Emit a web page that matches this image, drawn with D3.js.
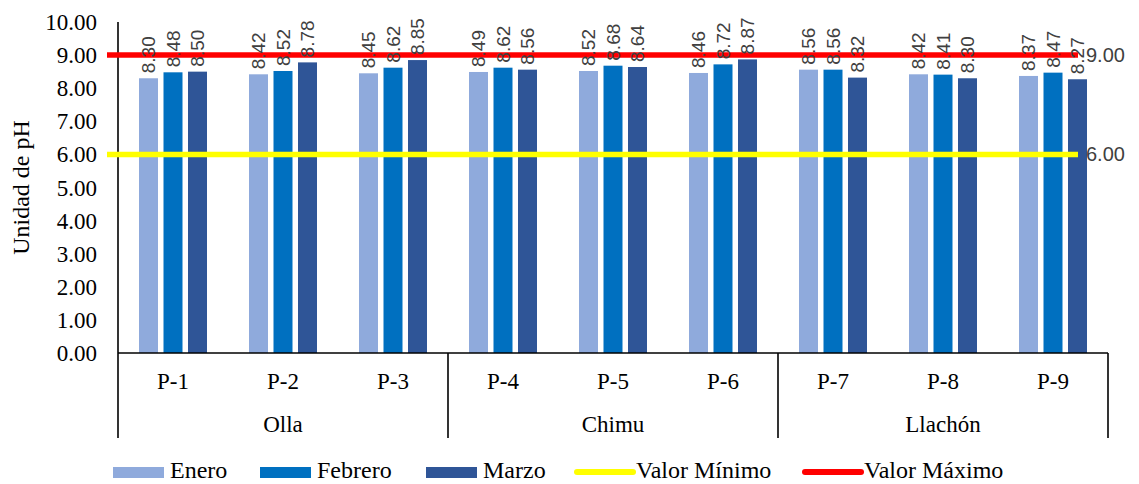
<!DOCTYPE html>
<html>
<head>
<meta charset="utf-8">
<script src="https://cdn.jsdelivr.net/npm/d3@7"></script>
<style>
  html, body { margin: 0; padding: 0; background: #fff; }
  svg { display: block; }
</style>
</head>
<body>
<svg id="chart" width="1139" height="484"></svg>
<script>
// Sampling points, grouped by community
const points = ["P-1", "P-2", "P-3", "P-4", "P-5", "P-6", "P-7", "P-8", "P-9"];
const groups = ["Olla", "Chimu", "Llachón"];
const groupOf = ["Olla", "Olla", "Olla", "Chimu", "Chimu", "Chimu", "Llachón", "Llachón", "Llachón"];

// Monthly pH values per sampling point
const months = ["Enero", "Febrero", "Marzo"];
const enero   = [8.30, 8.42, 8.45, 8.49, 8.52, 8.46, 8.56, 8.42, 8.37];
const febrero = [8.48, 8.52, 8.62, 8.62, 8.68, 8.72, 8.56, 8.41, 8.47];
const marzo   = [8.50, 8.78, 8.85, 8.56, 8.64, 8.87, 8.32, 8.30, 8.27];

// Permitted limits
const valorMinimo = 6.00;
const valorMaximo = 9.00;

// Y axis ticks
const yTicks = [0, 1, 2, 3, 4, 5, 6, 7, 8, 9, 10];

const seriesValues = [enero, febrero, marzo];
const colors = { Enero: "#8FAADC", Febrero: "#0070C0", Marzo: "#2F5597" };
const serif = "'Liberation Serif', 'Times New Roman', serif";
const sans = "'Liberation Sans', Arial, sans-serif";

const svg = d3.select("#chart");
const plotLeft = 118, plotRight = 1108, plotTop = 22, plotBottom = 353, axisBottom = 438;

const y = d3.scaleLinear().domain([0, 10]).range([plotBottom, plotTop]);
const x = d3.scaleBand().domain(points).range([plotLeft, plotRight]).padding(0);
const inner = d3.scaleBand().domain(months).range([-34, 34]).paddingInner(0.2245);
const fmt = d3.format(".2f");

// Y axis tick labels
svg.append("g")
  .selectAll("text")
  .data(yTicks)
  .join("text")
  .attr("x", 97)
  .attr("y", d => y(d))
  .attr("dy", "0.35em")
  .attr("text-anchor", "end")
  .attr("font-family", serif)
  .attr("font-size", 23)
  .attr("fill", "#000")
  .text(d => fmt(d));

// Y axis title
svg.append("text")
  .attr("transform", `translate(29,${(plotTop + plotBottom) / 2}) rotate(-90)`)
  .attr("text-anchor", "middle")
  .attr("font-family", serif)
  .attr("font-size", 24)
  .attr("fill", "#000")
  .text("Unidad de pH");

// Bars
const barG = svg.append("g");
months.forEach((m, si) => {
  barG.append("g")
    .selectAll("rect")
    .data(points.map((p, i) => ({ p, v: seriesValues[si][i] })))
    .join("rect")
    .attr("x", d => x(d.p) + x.bandwidth() / 2 + inner(m))
    .attr("y", d => y(d.v))
    .attr("width", inner.bandwidth())
    .attr("height", d => y(0) - y(d.v))
    .attr("fill", colors[m]);
});

// Axis lines and group separators
const axisG = svg.append("g").attr("stroke", "#000").attr("stroke-width", 1.6);
axisG.append("line").attr("x1", plotLeft).attr("x2", plotLeft).attr("y1", plotTop).attr("y2", axisBottom);
axisG.append("line").attr("x1", plotLeft).attr("x2", plotRight).attr("y1", y(0)).attr("y2", y(0));
groups.forEach(g => {
  const last = points[groupOf.lastIndexOf(g)];
  const gx = x(last) + x.bandwidth();
  axisG.append("line").attr("x1", gx).attr("x2", gx).attr("y1", y(0)).attr("y2", axisBottom);
});

// Category labels
svg.append("g")
  .selectAll("text")
  .data(points)
  .join("text")
  .attr("x", d => x(d) + x.bandwidth() / 2)
  .attr("y", 389)
  .attr("text-anchor", "middle")
  .attr("font-family", serif)
  .attr("font-size", 23)
  .attr("fill", "#000")
  .text(d => d);

// Group labels
svg.append("g")
  .selectAll("text")
  .data(groups)
  .join("text")
  .attr("x", g => {
    const first = points[groupOf.indexOf(g)];
    const last = points[groupOf.lastIndexOf(g)];
    return (x(first) + x(last) + x.bandwidth()) / 2;
  })
  .attr("y", 432)
  .attr("text-anchor", "middle")
  .attr("font-family", serif)
  .attr("font-size", 23)
  .attr("fill", "#000")
  .text(d => d);

// Limit lines
const limits = [
  { name: "Valor Mínimo", v: valorMinimo, color: "#FFFF00" },
  { name: "Valor Máximo", v: valorMaximo, color: "#FF0000" }
];
const lineX1 = plotLeft - 11, lineX2 = plotRight - 30;
svg.append("g")
  .selectAll("line")
  .data(limits)
  .join("line")
  .attr("x1", lineX1)
  .attr("x2", lineX2)
  .attr("y1", d => y(d.v))
  .attr("y2", d => y(d.v))
  .attr("stroke", d => d.color)
  .attr("stroke-width", 5.5);

svg.append("g")
  .selectAll("text")
  .data(limits)
  .join("text")
  .attr("x", lineX2 + 8)
  .attr("y", d => y(d.v))
  .attr("dy", "0.35em")
  .attr("font-family", sans)
  .attr("font-size", 20)
  .attr("fill", "#404040")
  .text(d => fmt(d.v));

// Data labels
const labelG = svg.append("g");
months.forEach((m, si) => {
  labelG.append("g")
    .selectAll("text")
    .data(points.map((p, i) => ({ p, v: seriesValues[si][i] })))
    .join("text")
    .attr("transform", d => {
      const cx = x(d.p) + x.bandwidth() / 2 + inner(m) + inner.bandwidth() / 2;
      return `translate(${cx},${y(d.v) - 5}) rotate(-90)`;
    })
    .attr("dy", "0.35em")
    .attr("text-anchor", "start")
    .attr("font-family", sans)
    .attr("font-size", 19)
    .attr("fill", "#404040")
    .text(d => fmt(d.v));
});

// Legend
const legendItems = [
  { name: "Enero", type: "rect", color: colors.Enero, x: 113, tx: 170 },
  { name: "Febrero", type: "rect", color: colors.Febrero, x: 260, tx: 317 },
  { name: "Marzo", type: "rect", color: colors.Marzo, x: 426, tx: 483 },
  { name: "Valor Mínimo", type: "line", color: "#FFFF00", x: 577, tx: 636 },
  { name: "Valor Máximo", type: "line", color: "#FF0000", x: 805, tx: 864 }
];
const legend = svg.append("g");
legendItems.forEach(it => {
  if (it.type === "rect") {
    legend.append("rect")
      .attr("x", it.x).attr("y", 467)
      .attr("width", 51).attr("height", 11)
      .attr("fill", it.color);
  } else {
    legend.append("line")
      .attr("x1", it.x).attr("x2", it.x + 56)
      .attr("y1", 472).attr("y2", 472)
      .attr("stroke", it.color)
      .attr("stroke-width", 6)
      .attr("stroke-linecap", "round");
  }
  legend.append("text")
    .attr("x", it.tx).attr("y", 478)
    .attr("font-family", serif)
    .attr("font-size", 24)
    .attr("fill", "#000")
    .text(it.name);
});
</script>
</body>
</html>
